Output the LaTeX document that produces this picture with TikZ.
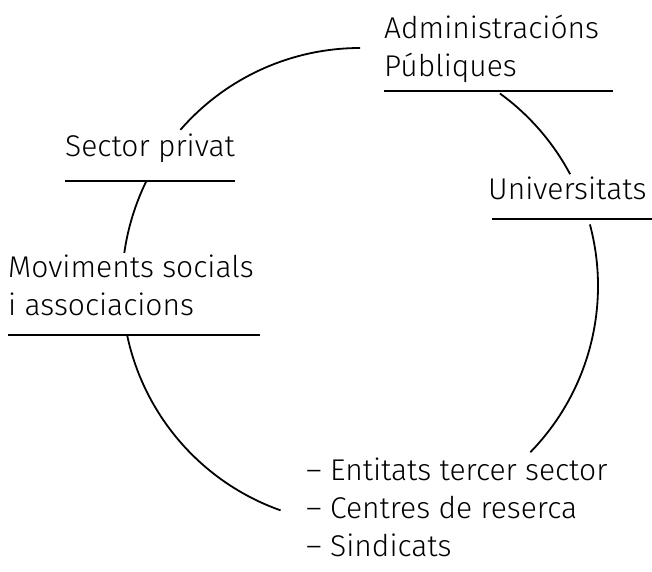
\documentclass[tikz,border=0pt]{standalone}
\usepackage{fontspec}
\setmainfont{Fira Sans Light}
\usepackage{tikz}

\begin{document}
\begin{tikzpicture}[x=1pt,y=1pt,
	lbl/.style={anchor=base west,inner sep=0pt,align=left,font=\fontsize{30}{38}\selectfont},
	rule/.style={black,line width=2.4pt},
	ring/.style={black,line width=1.8pt}]
	\useasboundingbox (0,0) rectangle (652,-571);
	\coordinate (c) at (360,-286);
	% labels (base = last line)
	\node[lbl] (admin) at (384,-76) {Administracións\\Públiques};
	\node[lbl] (privat) at (65,-156) {Sector privat};
	\node[lbl] (univ) at (488,-199) {Universitats};
	\node[lbl] (movs) at (8,-315) {Moviments socials\\i associacions};
	\node[lbl] (entitats) at (306,-556) {-- Entitats tercer sector\\-- Centres de reserca\\-- Sindicats};
	% underlines
	\draw[rule] (384,-91) -- (613,-91);
	\draw[rule] (65,-181) -- (235,-181);
	\draw[rule] (492,-219) -- (652,-219);
	\draw[rule] (8,-335) -- (260,-335);
	% arcs
	\draw[ring] ([shift={(139:238)}]c) arc[start angle=139,end angle=90,radius=238];
	\draw[ring] ([shift={(54:238)}]c) arc[start angle=54,end angle=28,radius=238];
	\draw[ring] ([shift={(15:238)}]c) arc[start angle=15,end angle=-44.3,radius=238];
	\draw[ring] ([shift={(154:238)}]c) arc[start angle=154,end angle=172,radius=238];
	\draw[ring] ([shift={(192:238)}]c) arc[start angle=192,end angle=250.5,radius=238];
\end{tikzpicture}
\end{document}
